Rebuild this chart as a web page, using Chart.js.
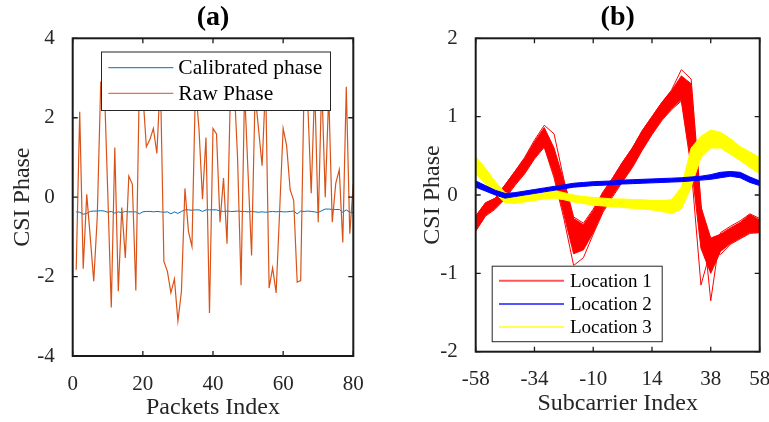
<!DOCTYPE html>
<html>
<head>
<meta charset="utf-8">
<script src="https://cdn.jsdelivr.net/npm/chart.js@4.4.1/dist/chart.umd.min.js"></script>
<style>
  html, body { margin: 0; padding: 0; background: #fff; }
  #wrap { position: relative; width: 769px; height: 422px; overflow: hidden; }
  .panel { position: absolute; top: 0; height: 422px; }
  #panelA { left: 0; width: 384px; }
  #panelB { left: 384px; width: 385px; }
</style>
</head>
<body>
<div id="wrap">
  <div class="panel" id="panelA"><canvas id="chartA" width="384" height="422"></canvas></div>
  <div class="panel" id="panelB"><canvas id="chartB" width="385" height="422"></canvas></div>
</div>
<script>
// (a) phase per packet
const packetIndex = Array.from({ length: 80 }, (_, i) => i + 1);
const calibratedPhase = [
  -0.37, -0.38, -0.43, -0.41, -0.36, -0.35, -0.35, -0.34, -0.35, -0.38,
  -0.36, -0.40, -0.37, -0.39, -0.36, -0.37, -0.37, -0.37, -0.42, -0.37,
  -0.36, -0.36, -0.37, -0.36, -0.37, -0.38, -0.37, -0.42, -0.37, -0.41,
  -0.36, -0.32, -0.32, -0.33, -0.32, -0.32, -0.36, -0.32, -0.32, -0.32,
  -0.32, -0.35, -0.36, -0.35, -0.36, -0.36, -0.35, -0.36, -0.36, -0.37,
  -0.36, -0.37, -0.38, -0.37, -0.38, -0.37, -0.36, -0.37, -0.36, -0.37,
  -0.37, -0.36, -0.35, -0.42, -0.35, -0.36, -0.35, -0.36, -0.37, -0.39,
  -0.34, -0.30, -0.30, -0.31, -0.31, -0.31, -0.38, -0.32, -0.38, -0.39
];
const rawPhase = [
  -1.83, 2.15, -1.80, 0.07, -1.00, -2.12, -0.50, 2.90, 2.90, 0.10,
  -2.78, 1.25, -2.37, -0.26, -1.53, 0.53, 0.33, -2.35, 2.90, 2.60,
  1.27, 1.45, 1.73, 1.10, 3.00, -1.62, -1.87, -2.41, -2.06, -3.12,
  -2.37, 0.22, -0.86, -1.24, 2.80, 1.73, -0.05, 1.50, -2.92, 1.73,
  1.59, -0.63, 0.48, -1.17, 2.80, 2.90, 1.00, -2.22, 2.70, 0.60,
  -1.47, 2.60, 1.70, 0.79, 2.90, -2.29, -1.78, -2.41, -0.34, 1.73,
  1.29, 0.18, -0.08, -2.14, -2.10, 3.00, 2.40, 0.10, 2.80, -0.63,
  2.90, 0.00, 2.60, -0.63, 0.35, 0.69, -1.14, 2.78, -0.92, 0.35
];

// (b) phase per subcarrier, one band (upper/lower edge) per location
const subcarriers = [-58, -54, -50, -46, -42, -38, -34, -30, -26, -22, -18, -14, -10, -6, -2,
                     2, 6, 10, 14, 18, 22, 26, 30, 34, 38, 42, 46, 50, 54, 58];
const subTicks = [-58, -34, -10, 14, 38, 58];
const loc1Upper = [-0.27, -0.10, -0.04, 0.13, 0.30, 0.47, 0.68, 0.86, 0.60, 0.18, -0.30, -0.38, -0.20, 0.03, 0.22,
                   0.42, 0.60, 0.82, 1.00, 1.18, 1.33, 1.52, 1.42, -0.15, -0.55, -0.50, -0.42, -0.35, -0.25, -0.32];
const loc1Lower = [-0.46, -0.26, -0.17, -0.03, 0.13, 0.28, 0.47, 0.62, 0.25, -0.25, -0.75, -0.70, -0.48, -0.20, 0.00,
                   0.18, 0.36, 0.58, 0.78, 0.96, 1.10, 1.22, 0.40, -0.68, -1.00, -0.72, -0.62, -0.55, -0.48, -0.48];
const loc1TraceA = [-0.27, -0.10, -0.04, 0.13, 0.30, 0.48, 0.70, 0.89, 0.78, 0.20, -0.28, -0.36, -0.18, 0.04, 0.22,
                    0.42, 0.60, 0.82, 1.00, 1.18, 1.34, 1.60, 1.48, -0.10, -1.35, -0.48, -0.40, -0.33, -0.24, -0.30];
const loc1TraceB = [-0.46, -0.27, -0.18, -0.05, 0.12, 0.27, 0.46, 0.61, 0.22, -0.30, -0.90, -0.80, -0.50, -0.22, -0.02,
                    0.17, 0.35, 0.57, 0.77, 0.95, 1.09, 1.20, 0.35, -1.15, -0.70, -0.76, -0.63, -0.56, -0.49, -0.48];
const loc2Upper = [0.18, 0.12, 0.06, 0.02, 0.03, 0.05, 0.07, 0.09, 0.11, 0.13, 0.15, 0.16, 0.17, 0.175, 0.18,
                   0.19, 0.195, 0.20, 0.205, 0.21, 0.215, 0.22, 0.23, 0.24, 0.26, 0.29, 0.30, 0.29, 0.23, 0.18];
const loc2Lower = [0.10, 0.05, 0.00, -0.04, -0.02, 0.00, 0.02, 0.04, 0.06, 0.08, 0.10, 0.11, 0.12, 0.125, 0.13,
                   0.14, 0.145, 0.15, 0.155, 0.16, 0.165, 0.17, 0.18, 0.19, 0.20, 0.22, 0.24, 0.22, 0.16, 0.12];
const loc3Upper = [0.49, 0.34, 0.17, 0.03, 0.00, 0.02, 0.04, 0.06, 0.06, 0.03, 0.00, -0.02, -0.03, -0.04, -0.05,
                   -0.05, -0.06, -0.06, -0.07, -0.07, -0.06, 0.10, 0.60, 0.75, 0.83, 0.80, 0.72, 0.62, 0.55, 0.48];
const loc3Lower = [0.27, 0.14, 0.02, -0.10, -0.11, -0.09, -0.07, -0.05, -0.04, -0.06, -0.09, -0.11, -0.13, -0.14, -0.15,
                   -0.16, -0.17, -0.18, -0.19, -0.21, -0.24, -0.18, 0.10, 0.48, 0.60, 0.60, 0.52, 0.44, 0.35, 0.27];

Chart.defaults.font.family = '"Liberation Serif", "Times New Roman", serif';
Chart.defaults.color = '#262626';

const pts = (xs, ys) => xs.map((x, i) => ({ x, y: ys[i] }));

// box with inward tick marks on all four sides
const frameTicks = {
  id: 'frameTicks',
  afterDatasetsDraw(chart) {
    const { ctx, chartArea: a, scales: { x, y } } = chart;
    const len = 5;
    ctx.save();
    ctx.strokeStyle = '#1a1a1a';
    ctx.lineWidth = 1.3;
    ctx.beginPath();
    x.ticks.forEach(t => {
      const px = x.getPixelForValue(t.value);
      ctx.moveTo(px, a.bottom); ctx.lineTo(px, a.bottom - len);
      ctx.moveTo(px, a.top); ctx.lineTo(px, a.top + len);
    });
    y.ticks.forEach(t => {
      const py = y.getPixelForValue(t.value);
      ctx.moveTo(a.left, py); ctx.lineTo(a.left + len, py);
      ctx.moveTo(a.right, py); ctx.lineTo(a.right - len, py);
    });
    ctx.stroke();
    ctx.lineWidth = 2;
    ctx.strokeRect(a.left, a.top, a.right - a.left, a.bottom - a.top);
    ctx.restore();
  }
};

// legend drawn as a white box inside the plot area
function boxLegend(o) {
  return {
    id: 'boxLegend',
    afterDraw(chart) {
      const { ctx, chartArea: a } = chart;
      const bx = a.left + o.dx, by = a.top + o.dy;
      ctx.save();
      ctx.fillStyle = '#fff';
      ctx.fillRect(bx, by, o.w, o.h);
      ctx.strokeStyle = '#262626';
      ctx.lineWidth = 1;
      ctx.strokeRect(bx + 0.5, by + 0.5, o.w, o.h);
      ctx.font = o.font;
      ctx.textBaseline = 'middle';
      o.items.forEach((it, i) => {
        const yy = by + o.rows[i];
        ctx.strokeStyle = it.color;
        ctx.lineWidth = it.width;
        ctx.beginPath();
        ctx.moveTo(bx + o.line[0], yy);
        ctx.lineTo(bx + o.line[1], yy);
        ctx.stroke();
        ctx.fillStyle = '#000';
        ctx.fillText(it.label, bx + o.textX, yy + 1);
      });
      ctx.restore();
    }
  };
}

const baseOptions = (xOpts, yOpts, title, titleX, titleY) => ({
  responsive: false,
  animation: false,
  events: [],
  elements: { point: { radius: 0 }, line: { tension: 0 } },
  plugins: {
    legend: { display: false },
    tooltip: { enabled: false },
    title: {
      display: true, text: title, fullSize: false, color: '#000',
      font: { size: 28, weight: 'bold' }, padding: { top: 1.2, bottom: 3.5 }
    }
  },
  scales: {
    x: Object.assign({
      type: 'linear',
      grid: { display: false },
      border: { display: false },
      title: { display: true, text: titleX, font: { size: 24 }, color: '#262626', padding: { top: 0, bottom: xOpts.titlePad } },
      afterFit: s => { s.height = xOpts.height; s.paddingLeft = 0; s.paddingRight = 0; }
    }, xOpts.scale),
    y: Object.assign({
      grid: { display: false },
      border: { display: false },
      title: { display: true, text: titleY, font: { size: 24 }, color: '#262626', padding: { top: yOpts.titlePad, bottom: 0 } },
      afterFit: s => { s.width = yOpts.width; s.paddingTop = 0; s.paddingBottom = 0; }
    }, yOpts.scale)
  }
});

// (a)
const optsA = baseOptions(
  { height: 66, titlePad: 0,
    scale: { min: 0, max: 80, ticks: { stepSize: 20, padding: 8, maxRotation: 0, font: { size: 21 }, color: '#262626' } } },
  { width: 72.7, titlePad: 8.1,
    scale: { min: -4, max: 4, ticks: { stepSize: 2, padding: 10, font: { size: 21 }, color: '#262626' } } },
  '(a)', 'Packets Index', 'CSI Phase');
optsA.layout = { padding: { left: 0, right: 30.7, top: 0, bottom: 0 } };

new Chart(document.getElementById('chartA'), {
  type: 'line',
  data: {
    datasets: [
      { label: 'Calibrated phase', data: pts(packetIndex, calibratedPhase), borderColor: '#0072BD', borderWidth: 1, order: 1 },
      { label: 'Raw Phase', data: pts(packetIndex, rawPhase), borderColor: '#D95319', borderWidth: 1.2, order: 0 }
    ]
  },
  options: optsA,
  plugins: [frameTicks, boxLegend({
    dx: 28.3, dy: 13.2, w: 229, h: 58.5, rows: [16.2, 41.8], line: [7.3, 72.3], textX: 77.3,
    font: '21.5px "Liberation Serif", "Times New Roman", serif',
    items: [
      { label: 'Calibrated phase', color: '#0072BD', width: 1 },
      { label: 'Raw Phase', color: '#D95319', width: 1 }
    ]
  })]
});

// (b)
const optsB = baseOptions(
  { height: 70.3, titlePad: 3.6,
    scale: { min: -58, max: 58,
      afterBuildTicks: s => { s.ticks = subTicks.map(v => ({ value: v })); },
      ticks: { padding: 7.5, maxRotation: 0, autoSkip: false, font: { size: 21 }, color: '#262626' } } },
  { width: 91.7, titlePad: 34.6,
    scale: { min: -2, max: 2, ticks: { stepSize: 1, padding: 10, font: { size: 21 }, color: '#262626' } } },
  '(b)', 'Subcarrier Index', 'CSI Phase');
optsB.layout = { padding: { left: 0, right: 9.3, top: 0, bottom: 0 } };

const band = (label, upper, lower, color, order) => [
  { label, data: pts(subcarriers, upper), borderColor: color, backgroundColor: color, borderWidth: 1, fill: '+1', order },
  { label, data: pts(subcarriers, lower), borderColor: color, borderWidth: 1, fill: false, order }
];

new Chart(document.getElementById('chartB'), {
  type: 'line',
  data: {
    datasets: [
      ...band('Location 2', loc2Upper, loc2Lower, '#0000ff', 0),
      ...band('Location 3', loc3Upper, loc3Lower, '#ffff00', 1),
      ...band('Location 1', loc1Upper, loc1Lower, '#ff0000', 2),
      { label: 'Location 1', data: pts(subcarriers, loc1TraceA), borderColor: '#ff0000', borderWidth: 1, fill: false, order: 2 },
      { label: 'Location 1', data: pts(subcarriers, loc1TraceB), borderColor: '#ff0000', borderWidth: 1, fill: false, order: 2 }
    ]
  },
  options: optsB,
  plugins: [frameTicks, boxLegend({
    dx: 16, dy: 227.4, w: 170, h: 75.5, rows: [15, 38.3, 61.3], line: [7.3, 72.3], textX: 78.3,
    font: '19px "Liberation Serif", "Times New Roman", serif',
    items: [
      { label: 'Location 1', color: '#ff5555', width: 2 },
      { label: 'Location 2', color: '#5555ff', width: 2 },
      { label: 'Location 3', color: '#ffff55', width: 2 }
    ]
  })]
});
</script>
</body>
</html>
